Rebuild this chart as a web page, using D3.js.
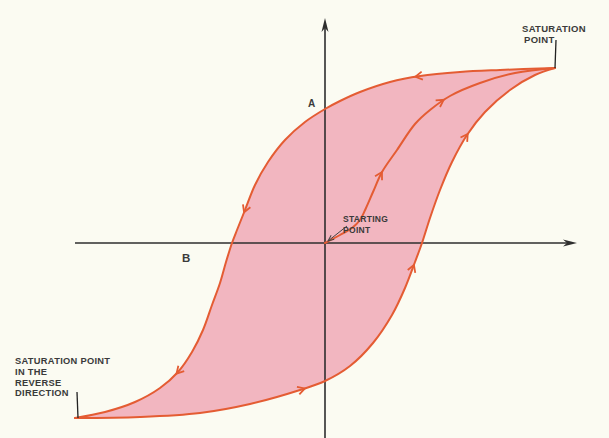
<!DOCTYPE html>
<html>
<head>
<meta charset="utf-8">
<script src="https://cdn.jsdelivr.net/npm/d3@7"></script>
<style>
  body { margin: 0; background: #fbfbf2; }
  svg { display: block; }
  .lbl { font-family: "Liberation Sans", Arial, sans-serif; fill: #3a3a3a; }
</style>
</head>
<body>
<div class="loop_chart"></div>
<script>
// data: field strength H (x) and flux density B (y), arbitrary units

// descending branch, saturation -> reverse saturation
const upperH = [9.2, 7.0, 5.4, 3.8, 2.6, 1.4, 0.6, 0, -0.8, -1.6, -2.28, -2.8, -3.2, -3.52, -3.72, -3.96, -4.2, -4.52, -4.88, -5.32, -5.88, -6.6, -7.6, -8.8, -10]
const upperB = [7.0, 6.92, 6.84, 6.68, 6.44, 6.04, 5.68, 5.36, 4.84, 4.12, 3.24, 2.32, 1.32, 0.52, 0, -0.76, -1.6, -2.48, -3.48, -4.36, -5.16, -5.8, -6.36, -6.76, -7]

// ascending branch, reverse saturation -> saturation
const lowerH = [-10, -7.4, -5, -3, -1, 0, 1, 1.92, 2.68, 3.2, 3.6, 3.88, 4.2, 4.6, 5.08, 5.68, 6.4, 7.4, 8.4, 9.2]
const lowerB = [-7, -6.96, -6.8, -6.44, -5.88, -5.52, -4.92, -4.0, -2.88, -1.8, -0.76, 0, 1.0, 2.12, 3.24, 4.32, 5.24, 6.12, 6.72, 7.0]

// initial magnetisation curve, origin -> saturation
const initH = [0, 0.6, 1.08, 1.4, 1.64, 1.92, 2.28, 2.88, 3.6, 4.2, 5.0, 6.2, 7.6, 9.2]
const initB = [0, 0.32, 0.6, 0.92, 1.4, 2.04, 2.84, 3.72, 4.76, 5.32, 5.88, 6.4, 6.8, 7.0]

// where the direction arrows sit on each curve
const upperArrows = [[3.6, 6.64], [-3.28, 1.24], [-6.12, -5.08]]
const lowerArrows = [[-0.8, -5.84], [3.52, -0.88], [5.64, 4.4]]
const initArrows = [[2.28, 2.84], [4.72, 5.8]]

// axis extents
const hAxisRange = [-10, 10.08]
const bAxisRange = [-7.9, 9.0]

const zip = (hs, bs) => hs.map((h, i) => ({ h: h, b: bs[i] }))
const upper = zip(upperH, upperB)
const lower = zip(lowerH, lowerB)
const initial = zip(initH, initB)

const width = 609
const height = 438

const svg = d3.select(".loop_chart")
    .append("svg")
    .attr("width", width)
    .attr("height", height)

const xScale = d3.scaleLinear()
    .domain([-10, 10])
    .range([75, 575])

const yScale = d3.scaleLinear()
    .domain([-7, 7])
    .range([418, 68])

const line = d3.line()
    .x(d => xScale(d.h))
    .y(d => yScale(d.b))
    .curve(d3.curveCatmullRom.alpha(0.5))

// shaded loop
svg.append("path")
    .attr("d", line(upper.concat(lower.slice(1))))
    .attr("fill", "#f2b6c0")
    .attr("stroke", "none")

// axes
const axisColor = "#2e2e2e"
svg.append("line")
    .attr("x1", xScale(hAxisRange[0])).attr("x2", xScale(hAxisRange[1]) - 6)
    .attr("y1", yScale(0)).attr("y2", yScale(0))
    .attr("stroke", axisColor).attr("stroke-width", 1.6)
svg.append("line")
    .attr("x1", xScale(0)).attr("x2", xScale(0))
    .attr("y1", yScale(bAxisRange[0])).attr("y2", yScale(bAxisRange[1]) + 6)
    .attr("stroke", axisColor).attr("stroke-width", 1.6)

const tipX = xScale(hAxisRange[1])
svg.append("path")
    .attr("d", `M${tipX},${yScale(0)} L${tipX - 14},${yScale(0) - 3.5} L${tipX - 10},${yScale(0)} L${tipX - 14},${yScale(0) + 3.5} Z`)
    .attr("fill", axisColor)
const tipY = yScale(bAxisRange[1])
svg.append("path")
    .attr("d", `M${xScale(0)},${tipY} L${xScale(0) - 3.5},${tipY + 14} L${xScale(0)},${tipY + 10} L${xScale(0) + 3.5},${tipY + 14} Z`)
    .attr("fill", axisColor)

// curves
const curveColor = "#e45c33"
const curves = [
    { pts: upper, arrows: upperArrows },
    { pts: lower, arrows: lowerArrows },
    { pts: initial, arrows: initArrows },
]

curves.forEach(c => {
    const path = svg.append("path")
        .attr("d", line(c.pts))
        .attr("fill", "none")
        .attr("stroke", curveColor)
        .attr("stroke-width", 2)
        .attr("stroke-linecap", "round")

    const node = path.node()
    const total = node.getTotalLength()

    c.arrows.forEach(a => {
        const ax = xScale(a[0])
        const ay = yScale(a[1])
        // nearest spot along the path
        let best = 0
        let bestDist = Infinity
        for (let s = 0; s <= total; s += 1) {
            const p = node.getPointAtLength(s)
            const dd = (p.x - ax) ** 2 + (p.y - ay) ** 2
            if (dd < bestDist) { bestDist = dd; best = s }
        }
        const p0 = node.getPointAtLength(Math.max(0, best - 3))
        const p1 = node.getPointAtLength(Math.min(total, best + 3))
        const p = node.getPointAtLength(best)
        const angle = Math.atan2(p1.y - p0.y, p1.x - p0.x) * 180 / Math.PI

        svg.append("path")
            .attr("d", "M-7,-4 L0,0 L-7,4")
            .attr("transform", `translate(${p.x},${p.y}) rotate(${angle})`)
            .attr("fill", "none")
            .attr("stroke", curveColor)
            .attr("stroke-width", 1.8)
            .attr("stroke-linejoin", "miter")
    })
})

// labels
const labels = [
    { text: "A", x: 308, y: 107, size: 10 },
    { text: "B", x: 182, y: 262, size: 11.5 },
    { text: "STARTING", x: 343, y: 222, size: 8.5 },
    { text: "POINT", x: 343, y: 233, size: 8.5 },
    { text: "SATURATION", x: 522, y: 32, size: 9.5 },
    { text: "POINT", x: 524, y: 43, size: 9.5 },
    { text: "SATURATION POINT", x: 15, y: 364, size: 9.3 },
    { text: "IN THE", x: 15, y: 375, size: 9.3 },
    { text: "REVERSE", x: 15, y: 385.5, size: 9.3 },
    { text: "DIRECTION", x: 15, y: 396, size: 9.3 },
]

svg.selectAll("text.lbl")
    .data(labels)
    .join("text")
    .attr("class", "lbl")
    .attr("x", d => d.x)
    .attr("y", d => d.y)
    .attr("font-size", d => d.size)
    .attr("font-weight", "bold")
    .attr("letter-spacing", 0.3)
    .text(d => d.text)

// leader lines
svg.append("line")
    .attr("x1", 556).attr("y1", 40)
    .attr("x2", xScale(upperH[0])).attr("y2", yScale(upperB[0]))
    .attr("stroke", "#222").attr("stroke-width", 1.3)
svg.append("line")
    .attr("x1", 77).attr("y1", 392)
    .attr("x2", xScale(lowerH[0]) + 3).attr("y2", yScale(lowerB[0]))
    .attr("stroke", "#222").attr("stroke-width", 1.3)

// starting point pointer
svg.append("line")
    .attr("x1", 347).attr("y1", 226)
    .attr("x2", xScale(0) + 3).attr("y2", yScale(0) - 2)
    .attr("stroke", "#444").attr("stroke-width", 1)
svg.append("path")
    .attr("d", "M-6,-2.5 L0,0 L-6,2.5")
    .attr("transform", `translate(${xScale(0) + 3},${yScale(0) - 2}) rotate(${Math.atan2(yScale(0) - 2 - 226, xScale(0) + 3 - 347) * 180 / Math.PI})`)
    .attr("fill", "none")
    .attr("stroke", "#444")
    .attr("stroke-width", 1)
</script>
</body>
</html>
